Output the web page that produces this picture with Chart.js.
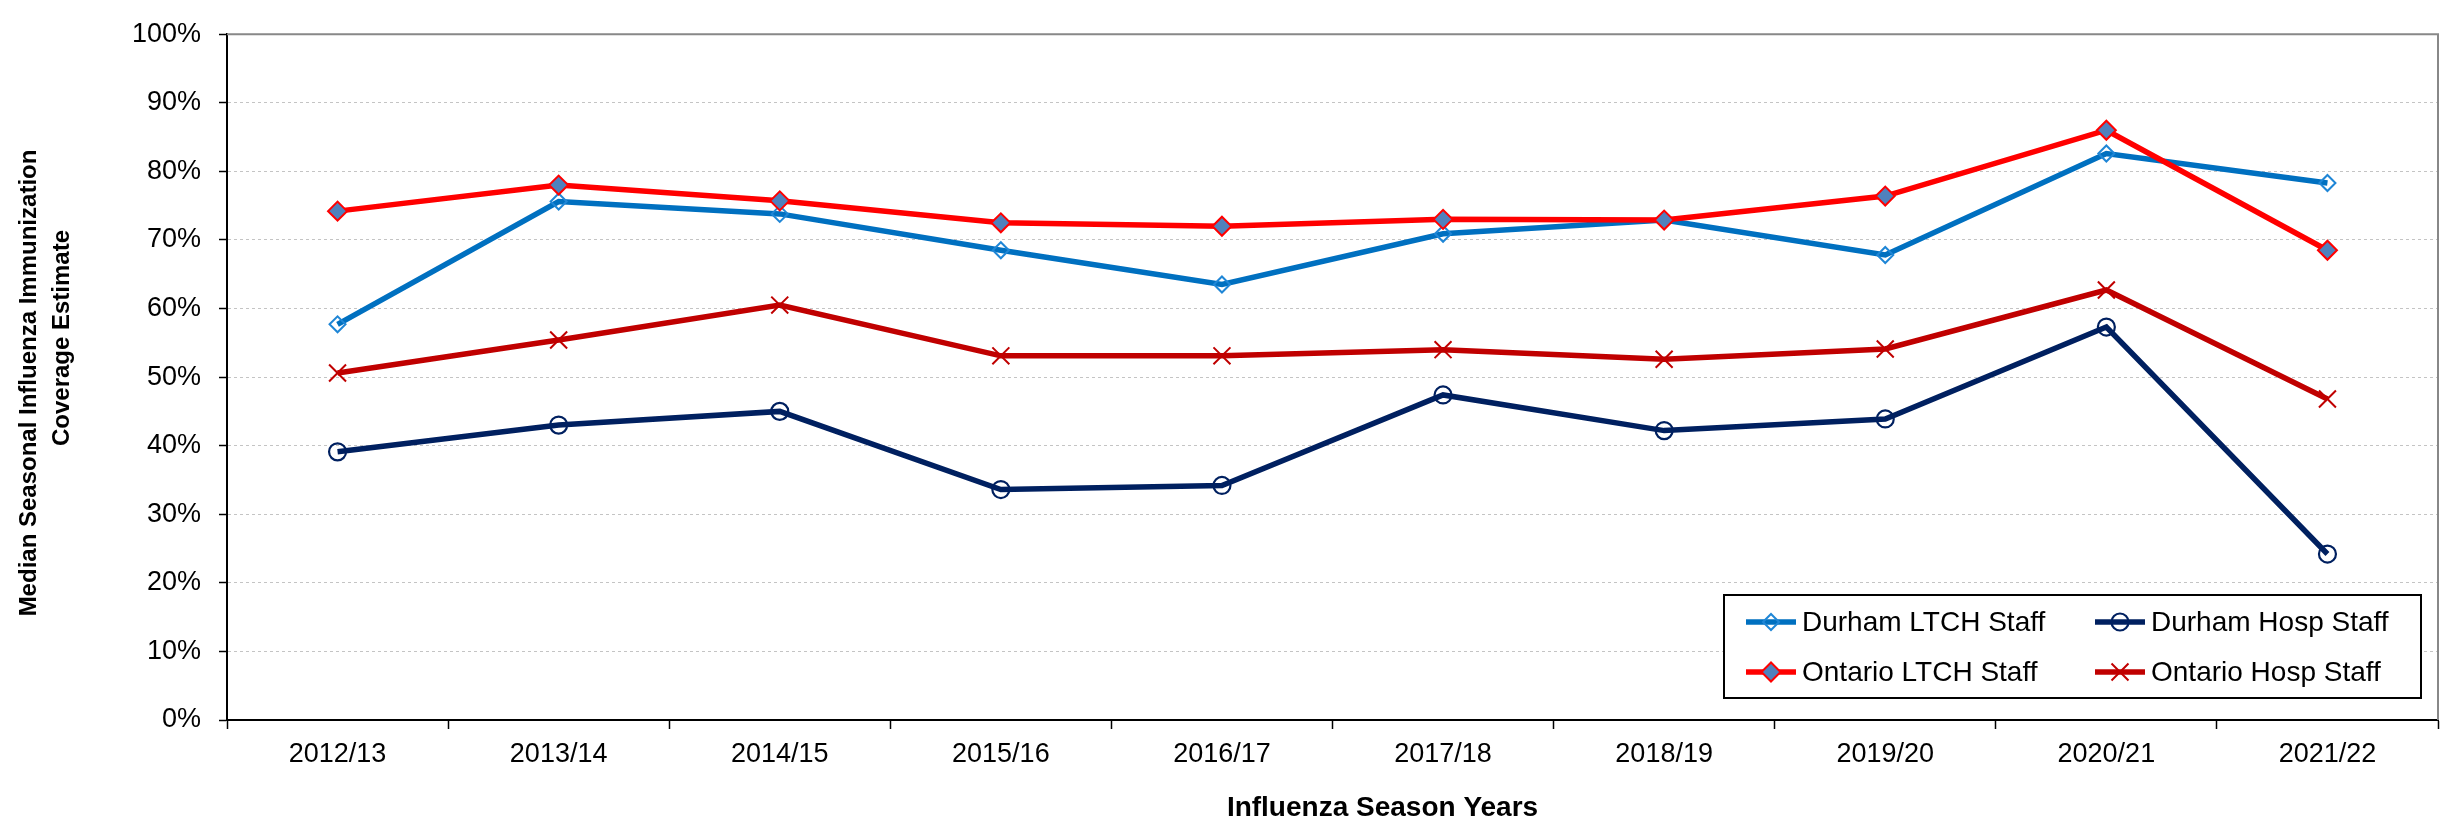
<!DOCTYPE html>
<html>
<head>
<meta charset="utf-8">
<script src="https://cdn.jsdelivr.net/npm/chart.js@4.4.1/dist/chart.umd.min.js"></script>
<style>
    body { margin: 0; background: #fff; }
    canvas { display: block; }
</style>
</head>
<body>
<canvas id="coverageChart" width="2452" height="824"></canvas>
<script>
const seasons = ['2012/13', '2013/14', '2014/15', '2015/16', '2016/17', '2017/18', '2018/19', '2019/20', '2020/21', '2021/22'];

const durhamLtch = [57.7, 75.6, 73.8, 68.5, 63.5, 70.9, 72.9, 67.8, 82.6, 78.3];
const durhamHosp = [39.1, 43.0, 45.0, 33.6, 34.2, 47.4, 42.2, 43.9, 57.3, 24.2];
const ontarioLtch = [74.2, 78.0, 75.7, 72.5, 72.0, 73.0, 72.9, 76.4, 86.0, 68.5];
const ontarioHosp = [50.6, 55.4, 60.5, 53.1, 53.1, 54.0, 52.6, 54.1, 62.7, 46.8];

const seriesNames = ['Durham LTCH Staff', 'Durham Hosp Staff', 'Ontario LTCH Staff', 'Ontario Hosp Staff'];
const yTitle = ['Median Seasonal Influenza Immunization', 'Coverage Estimate'];
const xTitle = 'Influenza Season Years';

const fontFamily = '"Liberation Sans", Arial, sans-serif';

// grey frame on top / right of the plot, axis titles, and the boxed legend
const extras = {
    id: 'extras',
    beforeDatasetsDraw(chart) {
        const ctx = chart.ctx;
        const a = chart.chartArea;
        ctx.save();
        ctx.strokeStyle = '#888888';
        ctx.lineWidth = 2;
        ctx.beginPath();
        ctx.moveTo(a.left, a.top);
        ctx.lineTo(a.right, a.top);
        ctx.lineTo(a.right, a.bottom);
        ctx.stroke();
        ctx.restore();
    },
    afterDraw(chart) {
        const ctx = chart.ctx;
        const a = chart.chartArea;

        ctx.save();
        ctx.fillStyle = '#000';
        ctx.font = 'bold 28px ' + fontFamily;
        ctx.textAlign = 'center';
        ctx.textBaseline = 'middle';
        ctx.fillText(xTitle, (a.left + a.right) / 2 + 50, 808);

        // y title, two lines, rotated
        ctx.font = 'bold 24px ' + fontFamily;
        ctx.save();
        ctx.translate(29, 383);
        ctx.rotate(-Math.PI / 2);
        ctx.fillText(yTitle[0], 0, 0);
        ctx.restore();
        ctx.save();
        ctx.translate(62, 338);
        ctx.rotate(-Math.PI / 2);
        ctx.fillText(yTitle[1], 0, 0);
        ctx.restore();

        // legend
        const bx = a.right - 714, by = a.bottom - 125, bw = 697, bh = 103;
        ctx.fillStyle = '#fff';
        ctx.fillRect(bx, by, bw, bh);
        ctx.strokeStyle = '#000';
        ctx.lineWidth = 2;
        ctx.strokeRect(bx, by, bw, bh);

        const slots = [[22, 27], [371, 27], [22, 77], [371, 77]];
        chart.data.datasets.forEach((ds, i) => {
            const sx = bx + slots[i][0];
            const sy = by + slots[i][1];
            ctx.strokeStyle = ds.borderColor;
            ctx.lineWidth = ds.borderWidth;
            ctx.beginPath();
            ctx.moveTo(sx, sy);
            ctx.lineTo(sx + 50, sy);
            ctx.stroke();

            ctx.fillStyle = ds.pointBackgroundColor;
            ctx.strokeStyle = ds.pointBorderColor;
            ctx.lineWidth = ds.pointBorderWidth;
            Chart.helpers.drawPoint(ctx, {
                pointStyle: ds.pointStyle,
                radius: ds.pointRadius,
                borderWidth: ds.pointBorderWidth,
                rotation: 0
            }, sx + 25, sy);

            ctx.fillStyle = '#000';
            ctx.font = '28px ' + fontFamily;
            ctx.textAlign = 'left';
            ctx.fillText(ds.label, sx + 56, sy + 1);
        });
        ctx.restore();
    }
};

const ctx = document.getElementById('coverageChart').getContext('2d');

new Chart(ctx, {
    type: 'line',
    data: {
        labels: seasons,
        datasets: [{
            label: seriesNames[0],
            data: durhamLtch,
            borderColor: '#0070C0',
            borderWidth: 5.5,
            pointStyle: 'rectRot',
            pointRadius: 8,
            pointBorderWidth: 2,
            pointBorderColor: '#1f86d6',
            pointBackgroundColor: 'rgba(255,255,255,0)',
            order: 4
        }, {
            label: seriesNames[1],
            data: durhamHosp,
            borderColor: '#002060',
            borderWidth: 5.5,
            pointStyle: 'circle',
            pointRadius: 8.5,
            pointBorderWidth: 2.2,
            pointBorderColor: '#002060',
            pointBackgroundColor: 'rgba(255,255,255,0)',
            order: 3
        }, {
            label: seriesNames[2],
            data: ontarioLtch,
            borderColor: '#FF0000',
            borderWidth: 5.5,
            pointStyle: 'rectRot',
            pointRadius: 9.5,
            pointBorderWidth: 2,
            pointBorderColor: '#FF0000',
            pointBackgroundColor: '#4F81BD',
            order: 2
        }, {
            label: seriesNames[3],
            data: ontarioHosp,
            borderColor: '#C00000',
            borderWidth: 5.5,
            pointStyle: 'crossRot',
            pointRadius: 12,
            pointBorderWidth: 2,
            pointBorderColor: '#C00000',
            pointBackgroundColor: '#C00000',
            order: 1
        }]
    },
    options: {
        responsive: false,
        animation: false,
        devicePixelRatio: 1,
        layout: {
            padding: { left: 0, top: 20, right: 13, bottom: 0 }
        },
        scales: {
            x: {
                offset: true,
                afterFit(scale) { scale.height = 104; },
                grid: {
                    offset: true,
                    drawOnChartArea: false,
                    tickLength: 9,
                    tickColor: '#000',
                    tickWidth: 1.5
                },
                border: { color: '#000', width: 2 },
                ticks: {
                    color: '#000',
                    padding: 9,
                    maxRotation: 0,
                    font: { family: fontFamily, size: 27 }
                }
            },
            y: {
                min: 0,
                max: 100,
                afterFit(scale) { scale.width = 227; },
                grid: {
                    color: '#c4c4c4',
                    lineWidth: 1,
                    tickLength: 8,
                    tickColor: '#000',
                    tickWidth: 1.5
                },
                border: { color: '#000', width: 2, dash: [3, 3] },
                ticks: {
                    stepSize: 10,
                    color: '#000',
                    padding: 18,
                    font: { family: fontFamily, size: 27 },
                    callback: value => value + '%'
                }
            }
        },
        plugins: {
            legend: { display: false },
            tooltip: { enabled: false }
        }
    },
    plugins: [extras]
});
</script>
</body>
</html>
